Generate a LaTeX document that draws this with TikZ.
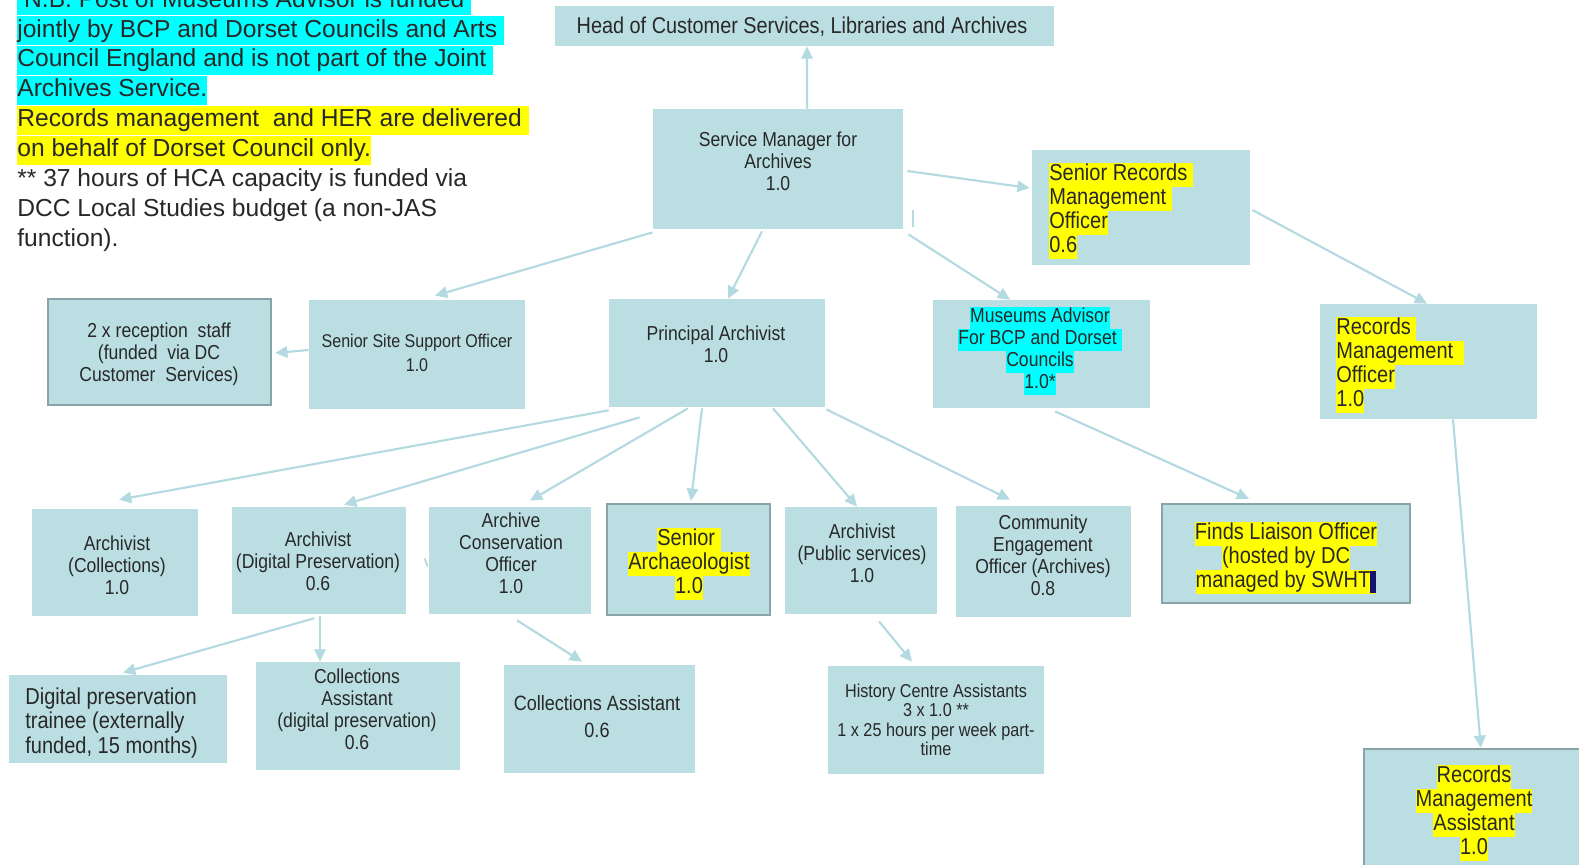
\documentclass[tikz,border=0pt]{standalone}
\usepackage{fontspec}
\setmainfont{Liberation Sans}
\newfontfamily\cond[FakeStretch=0.87]{Liberation Sans}
\usetikzlibrary{arrows.meta,calc,fit}

\definecolor{boxfill}{RGB}{186,222,226}
\definecolor{linecol}{RGB}{178,218,224}
\definecolor{edgecol}{RGB}{138,163,166}
\definecolor{ink}{RGB}{40,40,40}
\definecolor{hlyellow}{RGB}{255,255,0}
\definecolor{hlcyan}{RGB}{0,255,255}
\definecolor{cursor}{RGB}{20,20,110}

% highlighted text run: a colour band about as tall as one line
\newcommand\bandh{0.97}
\newcommand\hl[2]{{\setlength{\fboxsep}{0pt}\colorbox{#1}{\rule[-0.27\baselineskip]{0pt}{\bandh\baselineskip}#2}}}
\newcommand\hy[1]{\hl{hlyellow}{#1}}
\newcommand\hc[1]{\hl{hlcyan}{#1}}

\begin{document}
\begin{tikzpicture}[x=0.02cm,y=-0.02cm,
  box/.style={fill=boxfill,draw=none,inner sep=0pt},
  edged/.style={draw=edgecol,line width=1.3pt},
  lbl/.style={text=ink,inner sep=0pt,align=center,font=\cond\fontsize{11.5}{12.5}\selectfont},
  big/.style={font=\cond\fontsize{13.1}{13.7}\selectfont},
  conn/.style={draw=linecol,line width=1.2pt,-{Triangle[length=7pt,width=6.5pt]}},
  stub/.style={draw=linecol,line width=1pt}]
\useasboundingbox (0,0) rectangle (1579,865);
\clip (0,0) rectangle (1579,865);
\fill[white] (0,0) rectangle (1579,865);

% notes
\node[anchor=north west,inner sep=0pt,align=left,text=ink,font=\fontsize{14}{17}\selectfont] (notes) at (17,-12)
 {\renewcommand\bandh{0.9}%
  \hc{\ N.B. Post of Museums Advisor is funded\ }\\
  \hc{jointly by BCP and Dorset Councils and Arts\ }\\
  \hc{Council England and is not part of the Joint\ }\\
  \hc{Archives Service.}\\
  \hy{Records management\ \ and HER are delivered\ }\\
  \hy{on behalf of Dorset Council only.}\\
  ** 37 hours of HCA capacity is funded via\\
  DCC Local Studies budget (a non-JAS\\
  function).};

% boxes
\node[box,fit={(555,6)(1054,46)}] (head) {};
\node[lbl,font=\cond\fontsize{13}{15}\selectfont] (head-t) at (802,27) {Head of Customer Services, Libraries and Archives};

\node[box,fit={(653,109)(903,229)}] (sm) {};
\node[lbl] (sm-t) at (778,161) {Service Manager for\\Archives\\1.0};

\node[box,fit={(1032,150)(1250,265)}] (srmo) {};
\node[lbl,big,align=left,anchor=west] (srmo-t) at (1049,211)
 {\hy{Senior Records\ }\\\hy{Management\ }\\\hy{Officer}\\\hy{0.6}};

\node[box,fit={(1320,304)(1537,419)}] (rmo) {};
\node[lbl,big,align=left,anchor=west] (rmo-t) at (1336,365)
 {\hy{Records\ }\\\hy{Management\ \ }\\\hy{Officer}\\\hy{1.0}};

\node[box,edged,fit={(48,299)(271,405)}] (rec) {};
\node[lbl] (rec-t) at (159,354) {2 x reception\ \ staff\\(funded\ \ via DC\\Customer\ \ Services)};

\node[box,fit={(309,300)(525,409)}] (ssso) {};
\node[lbl,font=\cond\fontsize{10.5}{13.6}\selectfont] (ssso-t) at (417,353) {Senior Site Support Officer\\1.0};

\node[box,fit={(609,299)(825,407)}] (pa) {};
\node[lbl] (pa-t) at (716,344) {Principal Archivist\\1.0};

\node[box,fit={(933,300)(1150,408)}] (ma) {};
\node[lbl] (ma-t) at (1040,351) {\hc{Museums Advisor}\\\hc{For BCP and Dorset\ }\\\hc{Councils}\\\hc{1.0*}};

\node[box,fit={(32,509)(198,616)}] (ac) {};
\node[lbl] (ac-t) at (117,565) {Archivist\\(Collections)\\1.0};

\node[box,fit={(232,507)(406,614)}] (ad) {};
\node[lbl] (ad-t) at (318,561) {Archivist\\(Digital Preservation)\\0.6};

\node[box,fit={(429,507)(591,614)}] (aco) {};
\node[lbl] (aco-t) at (511,553) {Archive\\Conservation\\Officer\\1.0};

\node[box,edged,fit={(607,504)(770,615)}] (sa) {};
\node[lbl,big] (sa-t) at (689,564) {\hy{Senior\ }\\\hy{Archaeologist}\\\hy{1.0}};

\node[box,fit={(785,507)(937,614)}] (ap) {};
\node[lbl] (ap-t) at (862,553) {Archivist\\(Public services)\\1.0};

\node[box,fit={(956,506)(1131,617)}] (ceo) {};
\node[lbl] (ceo-t) at (1043,555) {Community\\Engagement\\Officer (Archives)\\0.8};

\node[box,edged,fit={(1162,504)(1410,603)}] (flo) {};
\node[lbl,big] (flo-t) at (1286,558) {\hy{Finds Liaison Officer}\\\hy{(hosted by DC}\\\hy{managed by SWHT\textcolor{cursor}{\rule[-0.25\baselineskip]{3.5pt}{0.92\baselineskip}}}};

\node[box,fit={(9,675)(227,763)}] (dpt) {};
\node[lbl,big,align=left,anchor=west] (dpt-t) at (25,723) {Digital preservation\\trainee (externally\\funded, 15 months)};

\node[box,fit={(256,662)(460,770)}] (cad) {};
\node[lbl] (cad-t) at (357,709) {Collections\\Assistant\\(digital preservation)\\0.6};

\node[box,fit={(504,665)(695,773)}] (ca) {};
\node[lbl,font=\cond\fontsize{11.8}{15.3}\selectfont] (ca-t) at (597,717) {Collections Assistant\\0.6};

\node[box,fit={(828,666)(1044,774)}] (hca) {};
\node[lbl,font=\cond\fontsize{10.6}{11}\selectfont] (hca-t) at (936,720) {History Centre Assistants\\3 x 1.0 **\\1 x 25 hours per week part-\\time};

\node[box,edged,fit={(1364,749)(1600,890)}] (rma) {};
\node[lbl,big] (rma-t) at (1474,813) {\hy{Records}\\\hy{Management}\\\hy{Assistant}\\\hy{1.0}};

% reporting lines
\draw[conn] ($(sm.north)+(29,0)$) -- ($(head.south)+(2.5,0)$);
\draw[conn] ($(sm.east)+(4,2)$) -- ($(srmo.west)+(-2,-19.5)$);
\draw[conn] ($(sm.south west)+(0,3)$) -- ($(ssso.north)+(18,-4)$);
\draw[conn] ($(sm.south)+(-16,2)$) -- ($(pa.north)+(11,0)$);
\draw[conn] ($(sm.south east)+(5,5)$) -- ($(ma.north)+(-31.5,0)$);
\draw[conn] ($(srmo.east)+(2,2.5)$) -- ($(rmo.north)+(-1.5,0)$);
\draw[conn] ($(ssso.west)+(0,-4.5)$) -- ($(rec.east)+(3,1)$);
\draw[conn] ($(pa.south west)+(0,3)$) -- ($(ac.north)+(4,-9)$);
\draw[conn] ($(pa.south west)+(31,10)$) -- ($(ad.north)+(25,-2)$);
\draw[conn] ($(pa.south)+(-29,1)$) -- ($(aco.north)+(20,-6)$);
\draw[conn] ($(pa.south)+(-15,1)$) -- ($(sa.north)+(2.5,-2)$);
\draw[conn] ($(pa.south)+(56,1)$) -- ($(ap.north)+(-4,0)$);
\draw[conn] ($(pa.south east)+(1,2)$) -- ($(ceo.north)+(-33.5,-6)$);
\draw[conn] ($(ma.south)+(13.5,3)$) -- ($(flo.north)+(-37,-4)$);
\draw[conn] ($(rmo.south)+(24.5,0)$) -- ($(rma.north west)+(118,0)$);
\draw[conn] ($(ad.south)+(-5,4)$) -- ($(dpt.north)+(5,-2)$);
\draw[conn] ($(ad.south)+(1,2)$) -- ($(cad.north)+(-38,0)$);
\draw[conn] ($(aco.south)+(7,6)$) -- ($(ca.north)+(-17.5,-3)$);
\draw[conn] ($(ap.south)+(18,7)$) -- ($(hca.north)+(-24,-4)$);

% short stray stubs
\draw[stub] ($(sm.south east)+(10,-19)$) -- ($(sm.south east)+(10,-2)$);
\draw[stub] ($(aco.west)+(-4,-2)$) -- ($(aco.west)+(-1,6)$);
\end{tikzpicture}
\end{document}
